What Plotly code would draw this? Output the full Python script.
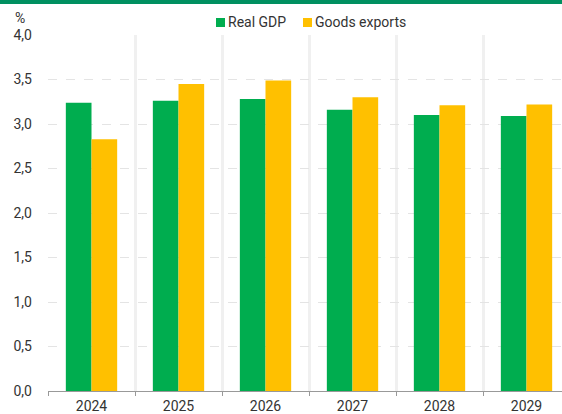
import plotly.graph_objects as go

years = ["2024", "2025", "2026", "2027", "2028", "2029"]
real_gdp = [3.24, 3.26, 3.28, 3.16, 3.10, 3.09]
goods_exports = [2.83, 3.45, 3.49, 3.30, 3.21, 3.22]
y_ticks = [0, 0.5, 1.0, 1.5, 2.0, 2.5, 3.0, 3.5, 4.0]
series_names = ["Real GDP", "Goods exports"]

GREEN = "#00AD4F"
YELLOW = "#FFC000"
TXT = "#333333"
W, H = 562, 414
ML, MR, MT, MB = 48, 0, 35, 23
pw = W - ML - MR
ph = H - MT - MB


def px_x(p):
    return (p - ML) / pw


def px_y(p):
    return 1 - (p - MT) / ph


fig = go.Figure()
fig.add_trace(go.Bar(name=series_names[0], x=years, y=real_gdp, marker_color=GREEN, marker_line_width=0))
fig.add_trace(go.Bar(name=series_names[1], x=years, y=goods_exports, marker_color=YELLOW, marker_line_width=0))

cat_px = 87
x_end = -0.5 + pw / cat_px

# custom legend (squares + text)
legend_items = [(216, 227, GREEN, series_names[0]), (303, 314, YELLOW, series_names[1])]
shapes = [dict(type="rect", xref="paper", yref="paper",
               x0=px_x(-5), x1=px_x(W + 5), y0=px_y(4), y1=px_y(-3),
               fillcolor="#009060", line_width=0, layer="above")]
annotations = [dict(text="%", xref="paper", yref="paper", x=px_x(13), y=px_y(18),
                    xanchor="left", yanchor="middle", showarrow=False,
                    font=dict(size=14, color=TXT))]
for sx, tx, col, name in legend_items:
    shapes.append(dict(type="rect", xref="paper", yref="paper",
                       x0=px_x(sx), x1=px_x(sx + 9), y0=px_y(27), y1=px_y(18),
                       fillcolor=col, line_width=0))
    annotations.append(dict(text=name, xref="paper", yref="paper", x=px_x(tx), y=px_y(22),
                            xanchor="left", yanchor="middle", showarrow=False, xshift=-1,
                            font=dict(size=14, color=TXT)))

fig.update_layout(
    width=W, height=H,
    margin=dict(l=ML, r=MR, t=MT, b=MB),
    paper_bgcolor="white", plot_bgcolor="white",
    barmode="group", bargap=0.41, bargroupgap=0,
    separators=",.",
    font=dict(family="Roboto, sans-serif", size=14, color=TXT),
    showlegend=False,
    xaxis=dict(type="category", range=[-0.5, x_end], tickson="boundaries",
               showgrid=True, gridcolor="#f0f0f0", gridwidth=3,
               showline=True, linecolor="#999999", linewidth=1,
               ticks="outside", ticklen=4, tickcolor="#999999", ticklabelstandoff=2,
               tickfont=dict(size=14, color=TXT)),
    yaxis=dict(range=[0, 4.0], tickvals=y_ticks, tickformat=".1f",
               showgrid=True, gridcolor="#e4e4e4", gridwidth=1, griddash="dash",
               zeroline=False, showline=False, ticks="", ticklabelstandoff=15,
               tickfont=dict(size=14, color=TXT)),
    shapes=shapes,
    annotations=annotations,
)

fig.write_html("out.html")
